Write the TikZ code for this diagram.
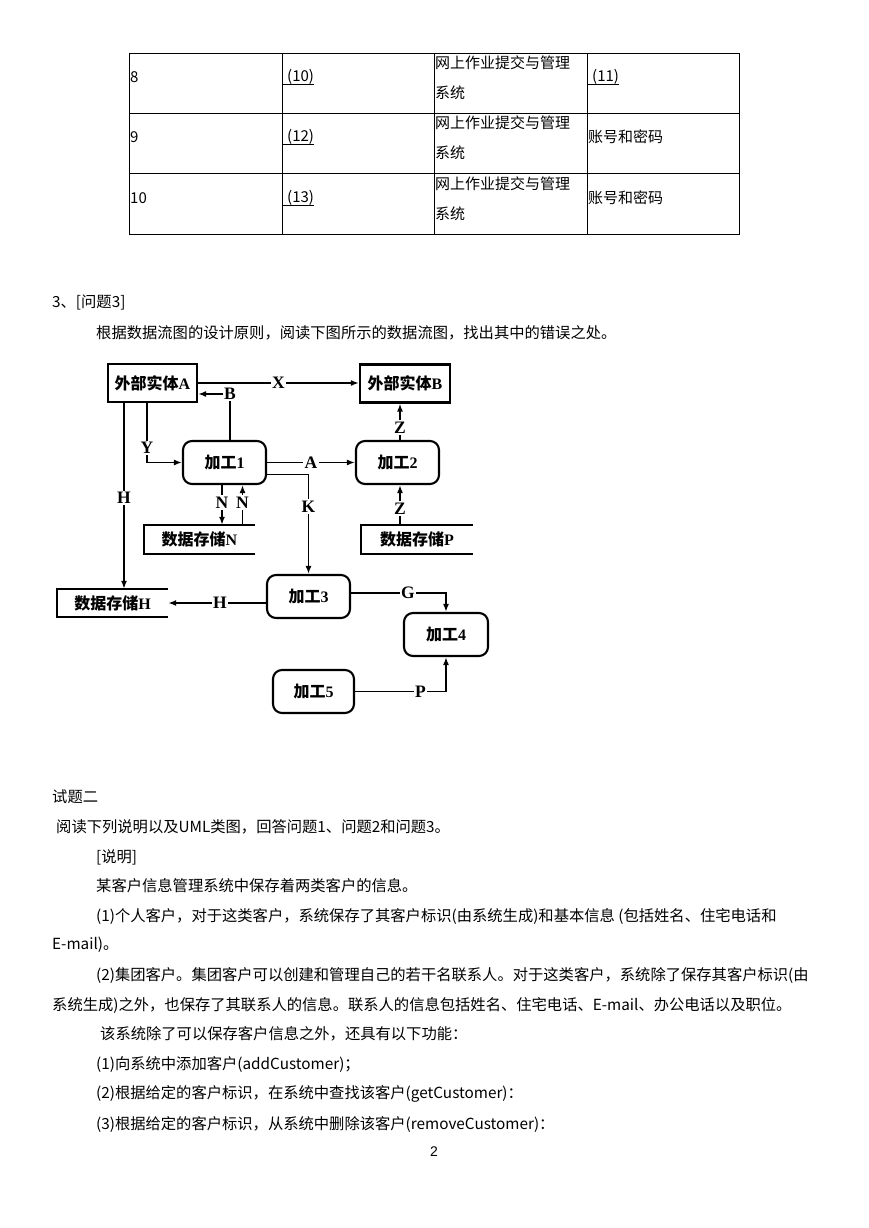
\documentclass[tikz,border=0pt]{standalone}
\usepackage{fontspec}
\setmainfont{Noto Sans CJK SC}
\newfontfamily\lbl{Liberation Serif}
\newfontfamily\pagefont{Liberation Sans}
\usetikzlibrary{arrows.meta}

\begin{document}
\begin{tikzpicture}[x=1pt,y=-1pt,
    txt/.style={anchor=west,inner sep=0pt,font=\fontsize{15.3}{18}\selectfont},
    cell/.style={anchor=west,inner sep=0pt,font=\fontsize{15}{18}\selectfont},
    entity/.style={draw,line width=2.1pt,minimum width=#1,minimum height=38pt,inner sep=0pt,font=\bfseries\fontsize{16}{18}\selectfont},
    proc/.style={draw,line width=2.1pt,rounded corners=9pt,minimum width=83pt,minimum height=43pt,inner sep=0pt,font=\bfseries\fontsize{16}{18}\selectfont},
    store/.style={minimum width=111pt,minimum height=29pt,inner sep=0pt,font=\bfseries\fontsize{16}{18}\selectfont},
    flow/.style={line width=1.9pt,-{Latex[length=8pt,width=6pt]}},
    dlabel/.style={fill=white,inner sep=1.5pt,font=\lbl\bfseries\fontsize{17.5}{17.5}\selectfont},
    pgnum/.style={inner sep=0pt,font=\pagefont\fontsize{14}{16}\selectfont}]
    \fill[white] (0,0) rectangle (869,1228);
    \useasboundingbox (0,0) rectangle (869,1228);

    % table
    \draw[line width=0.8pt] (129,53) rectangle (739,234);
    \foreach \cx in {282,434,587}
        \draw[line width=0.8pt] (\cx,53) -- (\cx,234);
    \foreach \ry in {113,173}
        \draw[line width=0.8pt] (129,\ry) -- (739,\ry);

    \foreach \n/\b/\yc in {8/10/77,9/12/137,10/13/198}{
        \node[cell] (num\n) at (130,\yc) {\n};
        \node[cell] (blank\n) at (282,\yc) {\hspace{5pt}(\b)};
        \draw[line width=0.8pt] (blank\n.south west) -- (blank\n.south east);
        \node[cell] (sysa\n) at (435,\yc-14) {网上作业提交与管理};
        \node[cell] (sysb\n) at (435,\yc+16) {系统};
    }
    \node[cell] (ans8) at (587,77) {\hspace{5pt}(11)};
    \draw[line width=0.8pt] (ans8.south west) -- (ans8.south east);
    \node[cell] (ans9) at (588,137) {账号和密码};
    \node[cell] (ans10) at (588,198) {账号和密码};

    % question text
    \node[txt] (q3) at (52,302) {3、[问题3]};
    \node[txt] (q3a) at (96,333) {根据数据流图的设计原则，阅读下图所示的数据流图，找出其中的错误之处。};

    % data flow diagram
    \node[entity=89pt] (entA) at (152.5,383) {外部实体{\lbl A}};
    \node[entity=90pt] (entB) at (405,383.5) {外部实体{\lbl B}};
    \node[proc] (p1) at (224.5,462.5) {加工{\lbl 1}};
    \node[proc] (p2) at (397.5,462.5) {加工{\lbl 2}};
    \node[proc] (p3) at (308.5,596.5) {加工{\lbl 3}};
    \node[proc,minimum width=84pt] (p4) at (446,634.5) {加工{\lbl 4}};
    \node[proc,minimum width=81pt] (p5) at (313.5,691.5) {加工{\lbl 5}};
    \node[store] (sN) at (199.5,539.5) {数据存储{\lbl N}};
    \node[store,minimum width=112pt] (sP) at (417,539.5) {数据存储{\lbl P}};
    \node[store,minimum height=28pt] (sH) at (112.5,603) {数据存储{\lbl H}};
    \foreach \s in {sN,sP,sH}
        \draw[line width=2.1pt] (\s.north east) -- (\s.north west) -- (\s.south west) -- (\s.south east);

    \draw[flow] (entA.east) -- node[dlabel]{X} (entA.east -| entB.west);
    \draw[flow] ([xshift=5.5pt]p1.north) |- node[dlabel,pos=0.5]{B} ([yshift=-11pt]entA.east);
    \draw[flow] ([xshift=-5.5pt]entA.south) |- node[dlabel,pos=0.38]{Y} (p1.west);
    \draw[flow] ([xshift=-28.5pt]entA.south) -- node[dlabel,pos=0.51]{H} ([xshift=-28.5pt]entA.south |- sH.north);
    \draw[flow] (p1.east) -- node[dlabel]{A} (p2.west);
    \draw[flow] ([yshift=-12pt]p1.east) -| node[dlabel,pos=0.66]{K} (p3.north);
    \draw[flow] ([xshift=-2.5pt]p1.south) -- node[dlabel,pos=0.44]{N} ([xshift=-2.5pt]p1.south |- sN.north);
    \draw[flow] ([xshift=18pt]p1.south |- sN.north) -- node[dlabel,pos=0.56]{N} ([xshift=18pt]p1.south);
    \draw[flow] ([xshift=2.5pt]p2.north) -- node[dlabel,pos=0.34]{Z} ([xshift=2.5pt]p2.north |- entB.south);
    \draw[flow] ([xshift=2.5pt]p2.south |- sP.north) -- node[dlabel,pos=0.41]{Z} ([xshift=2.5pt]p2.south);
    \draw[flow] ([yshift=-6.5pt]p3.west) -- node[dlabel,pos=0.47]{H} ([yshift=-6.5pt]p3.west -| sH.east);
    \draw[flow] ([yshift=3.5pt]p3.east) -| node[dlabel,pos=0.3]{G} (p4.north);
    \draw[flow] (p5.east) -| node[dlabel,pos=0.36]{P} (p4.south);

    % second question
    \node[txt] (t2) at (52,797) {试题二};
    \node[txt] (rd) at (56,827) {阅读下列说明以及UML类图，回答问题1、问题2和问题3。};
    \node[txt] (sm) at (96,857) {[说明]};
    \node[txt] (l1) at (96,886) {某客户信息管理系统中保存着两类客户的信息。};
    \node[txt] (l2) at (96,916) {(1)个人客户，对于这类客户，系统保存了其客户标识(由系统生成)和基本信息 (包括姓名、住宅电话和};
    \node[txt] (l3) at (52,945) {E-mail)。};
    \node[txt] (l4) at (96,975) {(2)集团客户。集团客户可以创建和管理自己的若干名联系人。对于这类客户，系统除了保存其客户标识(由};
    \node[txt] (l5) at (52,1005) {系统生成)之外，也保存了其联系人的信息。联系人的信息包括姓名、住宅电话、E-mail、办公电话以及职位。};
    \node[txt] (l6) at (100,1034) {该系统除了可以保存客户信息之外，还具有以下功能：};
    \node[txt] (l7) at (96,1064) {(1)向系统中添加客户(addCustomer)；};
    \node[txt] (l8) at (96,1094) {(2)根据给定的客户标识，在系统中查找该客户(getCustomer)：};
    \node[txt] (l9) at (96,1124) {(3)根据给定的客户标识，从系统中删除该客户(removeCustomer)：};
    \node[pgnum] (pg) at (434,1152) {2};
\end{tikzpicture}
\end{document}
